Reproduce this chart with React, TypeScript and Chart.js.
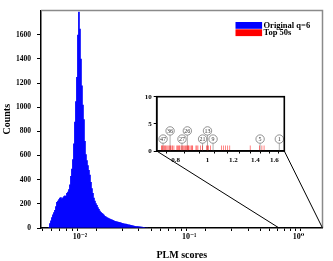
import React, { useEffect, useRef } from 'react';
import { Chart, registerables } from 'chart.js';
Chart.register(...registerables);

// ---- Data ----
const binCenters = [
  0.005202, 0.005312, 0.005426, 0.005541, 0.005659, 0.005780, 0.005903, 0.006029, 0.006157, 0.006289,
  0.006423, 0.006559, 0.006699, 0.006842, 0.006988, 0.007137, 0.007289, 0.007444, 0.007603, 0.007765,
  0.007930, 0.008099, 0.008272, 0.008448, 0.008628, 0.008812, 0.008999, 0.009191, 0.009387, 0.009587,
  0.009791, 0.010000, 0.010213, 0.010431, 0.010653, 0.010880, 0.011112, 0.011348, 0.011590, 0.011837,
  0.012089, 0.012347, 0.012610, 0.012879, 0.013153, 0.013433, 0.013719, 0.014011, 0.014310, 0.014615,
  0.014926, 0.015244, 0.015569, 0.015901, 0.016240, 0.016586, 0.016939, 0.017300, 0.017669, 0.018045,
  0.018430, 0.018822, 0.019223, 0.019633, 0.020051, 0.020478, 0.020915, 0.021360, 0.021815, 0.022280,
  0.022755, 0.023240, 0.023735, 0.024240, 0.024757, 0.025284, 0.025823, 0.026373, 0.026935, 0.027508,
  0.028094, 0.028693, 0.029304, 0.029928, 0.030566, 0.031217, 0.031882, 0.032561, 0.033255, 0.033963,
  0.034687, 0.035426, 0.036180, 0.036951, 0.037738, 0.038542, 0.039363, 0.040201, 0.041058,
];
const counts = [
  8, 40, 62, 90, 112, 130, 148, 180, 215, 225,
  238, 250, 255, 245, 252, 262, 270, 265, 290, 300,
  320, 360, 430, 490, 570, 700, 880, 1050, 1250, 1600,
  1790, 1650, 1400, 1180, 1020, 900, 720, 610, 560, 520,
  480, 440, 380, 330, 290, 250, 225, 205, 190, 172,
  158, 142, 132, 125, 118, 110, 100, 95, 90, 85,
  80, 76, 73, 70, 66, 62, 58, 55, 53, 51,
  49, 48, 45, 42, 40, 38, 36, 35, 33, 30,
  28, 26, 24, 22, 20, 18, 17, 15, 15, 14,
  13, 12, 11, 10, 9, 8, 7, 5, 3,
];
const topScores = [
  0.724, 0.727, 0.731, 0.737, 0.741, 0.744, 0.751, 0.757, 0.763, 0.768,
  0.772, 0.779, 0.783, 0.790, 0.806, 0.811, 0.815, 0.820, 0.824, 0.832,
  0.838, 0.844, 0.852, 0.857, 0.862, 0.868, 0.873, 0.876, 0.884, 0.892,
  0.897, 0.901, 0.922, 0.928, 0.935, 0.952, 0.966, 0.993, 0.999, 1.007,
  1.021, 1.103, 1.118, 1.134, 1.152, 1.169, 1.350, 1.440, 1.465, 1.488,
];
const labelRanks = [47, 36, 27, 26, 21, 13, 9, 5, 1];
const labelScores = [0.732, 0.769, 0.836, 0.868, 0.966, 1.0, 1.04, 1.447, 1.656];
const labelLevels = [2.2, 3.7, 2.2, 3.7, 2.2, 3.7, 2.2, 2.2, 2.2];

const mainYTicks = [0, 200, 400, 600, 800, 1000, 1200, 1400, 1600];
const mainXRange = [0.0044, 1.66];
const mainYMax = 1800;
const zoomRange = [0.665, 1.66];
const insetXRange = [0.704, 1.715];
const insetXTicks = [0.7, 0.8, 0.9, 1.0, 1.1, 1.2, 1.3, 1.4, 1.5, 1.6, 1.7];
const insetXLabels = [0.8, 1, 1.2, 1.4, 1.6];
const insetYTicks = [0, 5, 10];
const legendLabels = ['Original q=6', 'Top 50s'];
const legendColors = ['#0000ff', '#ff0000'];

// ---- Layout ----
const W = 333;
const H = 261;
const MAIN = { left: 41, top: 7.5, right: 322.5, bottom: 228 };
const INSET = { left: 156.7, top: 96.7, right: 284.3, bottom: 151 };
const INSET_CANVAS = { left: 130, top: 88, width: 160, height: 82 };

const FAMILY = '"Liberation Serif", "Times New Roman", "DejaVu Serif", serif';
const SUP: Record<string, string> = { '-': '\u207B', '0': '\u2070', '1': '\u00B9', '2': '\u00B2', '3': '\u00B3' };
const supText = (n: number) => String(n).split('').map((c) => SUP[c] || c).join('');

export default function App() {
  const mainRef = useRef<HTMLCanvasElement>(null);
  const insetRef = useRef<HTMLCanvasElement>(null);

  useEffect(() => {
    const mainCanvas = mainRef.current!;
    const insetCanvas = insetRef.current!;

    const mainPlugin = {
      id: 'mainDecor',
      afterDraw(chart: any) {
        const ctx = chart.ctx;
        const a = chart.chartArea;
        const xs = chart.scales.x;
        ctx.save();
        ctx.strokeStyle = '#8a8a8a';
        ctx.lineWidth = 1.5;
        ctx.beginPath();
        ctx.moveTo(a.left, a.top);
        ctx.lineTo(a.right, a.top);
        ctx.lineTo(a.right, a.bottom);
        ctx.stroke();
        ctx.strokeStyle = '#000';
        ctx.lineWidth = 1;
        ctx.beginPath();
        ctx.moveTo(INSET.left, INSET.bottom);
        ctx.lineTo(xs.getPixelForValue(zoomRange[0]), a.bottom);
        ctx.moveTo(INSET.right, INSET.bottom);
        ctx.lineTo(xs.getPixelForValue(zoomRange[1]), a.bottom);
        ctx.stroke();
        const lx = a.right - 87;
        const ly = a.top + 11.5;
        ctx.font = `bold 8.5px ${FAMILY}`;
        ctx.textBaseline = 'middle';
        ctx.textAlign = 'left';
        legendLabels.forEach((t, i) => {
          ctx.fillStyle = legendColors[i];
          ctx.fillRect(lx, ly + i * 7.3, 26.6, 6.8);
          ctx.fillStyle = '#000';
          ctx.fillText(t, lx + 28, ly + i * 7.3 + 3.6);
        });
        ctx.restore();
      },
    };

    const mainChart = new Chart(mainCanvas, {
      type: 'bar',
      data: {
        datasets: [
          {
            label: legendLabels[0],
            data: binCenters.map((x, i) => ({ x, y: counts[i] })),
            backgroundColor: '#0000ff',
            borderWidth: 0,
            barThickness: 1.7,
            inflateAmount: 0,
          },
        ],
      },
      options: {
        responsive: false,
        animation: false,
        events: [],
        layout: { padding: { left: 0, right: W - MAIN.right, top: MAIN.top, bottom: 0 } },
        plugins: { legend: { display: false }, tooltip: { enabled: false } },
        scales: {
          x: {
            type: 'logarithmic',
            min: mainXRange[0],
            max: mainXRange[1],
            afterFit: (s: any) => { s.height = H - MAIN.bottom; },
            afterBuildTicks: (s: any) => {
              const t: any[] = [];
              for (let e = -3; e <= 0; e++) {
                for (let m = 1; m <= 9; m++) {
                  const v = m * Math.pow(10, e);
                  if (v >= mainXRange[0] && v <= mainXRange[1]) t.push({ value: v, major: m === 1, exp: e });
                }
              }
              s.ticks = t;
            },
            grid: { drawOnChartArea: false, drawTicks: true, tickLength: 3, color: '#000', tickWidth: 1 },
            border: { display: true, color: '#000', width: 1.5 },
            ticks: {
              autoSkip: false,
              maxRotation: 0,
              padding: 1,
              color: '#000',
              font: { family: FAMILY, size: 8, weight: 'bold' },
              callback: (_v: any, i: number, ticks: any[]) => {
                const tk = ticks[i];
                return tk.major ? '10' + supText(tk.exp) : '';
              },
            },
            title: {
              display: true,
              text: 'PLM scores',
              color: '#000',
              font: { family: FAMILY, size: 10, weight: 'bold' },
              padding: { top: 0, bottom: 0 },
            },
          },
          y: {
            type: 'linear',
            min: 0,
            max: mainYMax,
            afterFit: (s: any) => { s.width = MAIN.left; },
            afterBuildTicks: (s: any) => { s.ticks = mainYTicks.map((v) => ({ value: v })); },
            grid: { drawOnChartArea: false, drawTicks: true, tickLength: 4, color: '#000' },
            border: { display: true, color: '#000', width: 1.5 },
            ticks: {
              padding: 6,
              color: '#000',
              font: { family: FAMILY, size: 7.5, weight: 'bold' },
              callback: (v: any) => String(v),
            },
            title: {
              display: true,
              text: 'Counts',
              color: '#000',
              font: { family: FAMILY, size: 10, weight: 'bold' },
              padding: { top: 1, bottom: 0 },
            },
          },
        },
      } as any,
      plugins: [mainPlugin],
    });

    const insetPlugin = {
      id: 'insetDecor',
      beforeDatasetsDraw(chart: any) {
        const ctx = chart.ctx;
        const ys = chart.scales.y;
        const meta = chart.getDatasetMeta(0);
        ctx.save();
        ctx.strokeStyle = '#9a9a9a';
        ctx.lineWidth = 0.8;
        meta.data.forEach((pt: any) => {
          ctx.beginPath();
          ctx.moveTo(pt.x, pt.y + 4);
          ctx.lineTo(pt.x, ys.getPixelForValue(0));
          ctx.stroke();
        });
        ctx.restore();
      },
      afterDatasetsDraw(chart: any) {
        const ctx = chart.ctx;
        const meta = chart.getDatasetMeta(0);
        ctx.save();
        ctx.fillStyle = '#333';
        ctx.font = `6px ${FAMILY}`;
        ctx.textAlign = 'center';
        ctx.textBaseline = 'middle';
        meta.data.forEach((pt: any, i: number) => {
          ctx.fillText(String(labelRanks[i]), pt.x, pt.y + 0.5);
        });
        ctx.restore();
      },
      afterDraw(chart: any) {
        const ctx = chart.ctx;
        const a = chart.chartArea;
        ctx.save();
        ctx.strokeStyle = '#000';
        ctx.lineWidth = 1.6;
        ctx.strokeRect(a.left, a.top, a.right - a.left, a.bottom - a.top);
        ctx.restore();
      },
    };

    const insetChart = new Chart(insetCanvas, {
      type: 'bar',
      data: {
        datasets: [
          {
            type: 'scatter',
            label: 'ranks',
            data: labelScores.map((x, i) => ({ x, y: labelLevels[i] })),
            pointRadius: 4.2,
            pointBackgroundColor: '#fff',
            pointBorderColor: '#777',
            pointBorderWidth: 0.8,
            showLine: false,
          } as any,
          {
            label: legendLabels[1],
            data: topScores.map((x) => ({ x, y: 1 })),
            backgroundColor: 'rgba(255,0,0,0.6)',
            borderWidth: 0,
            barThickness: 0.8,
            inflateAmount: 0,
          },
        ],
      },
      options: {
        responsive: false,
        animation: false,
        events: [],
        layout: {
          padding: {
            left: 0,
            right: INSET_CANVAS.left + INSET_CANVAS.width - INSET.right,
            top: INSET.top - INSET_CANVAS.top,
            bottom: 0,
          },
        },
        plugins: { legend: { display: false }, tooltip: { enabled: false } },
        scales: {
          x: {
            type: 'logarithmic',
            min: insetXRange[0],
            max: insetXRange[1],
            afterFit: (s: any) => { s.height = INSET_CANVAS.top + INSET_CANVAS.height - INSET.bottom; },
            afterBuildTicks: (s: any) => { s.ticks = insetXTicks.map((v) => ({ value: v })); },
            grid: { drawOnChartArea: false, drawTicks: true, tickLength: 2.5, color: '#000' },
            border: { display: true, color: '#000', width: 1.5 },
            ticks: {
              autoSkip: false,
              maxRotation: 0,
              padding: 2,
              color: '#000',
              font: { family: FAMILY, size: 7, weight: 'bold' },
              callback: (v: any) => {
                const n = Number(v);
                const hit = insetXLabels.find((l) => Math.abs(l - n) < 1e-6);
                return hit !== undefined ? String(hit) : '';
              },
            },
          },
          y: {
            type: 'linear',
            min: 0,
            max: 10,
            afterFit: (s: any) => { s.width = INSET.left - INSET_CANVAS.left; },
            afterBuildTicks: (s: any) => { s.ticks = insetYTicks.map((v) => ({ value: v })); },
            grid: { drawOnChartArea: false, drawTicks: true, tickLength: 3, color: '#000' },
            border: { display: true, color: '#000', width: 1.5 },
            ticks: {
              padding: 2,
              color: '#000',
              font: { family: FAMILY, size: 7, weight: 'bold' },
            },
          },
        },
      } as any,
      plugins: [insetPlugin],
    });

    return () => {
      mainChart.destroy();
      insetChart.destroy();
    };
  }, []);

  return (
    <div style={{ position: 'absolute', left: 0, top: 0, width: W, height: H, background: '#fff' }}>
      <canvas ref={mainRef} width={W} height={H} style={{ position: 'absolute', left: 0, top: 0, width: W, height: H }} />
      <canvas
        ref={insetRef}
        width={INSET_CANVAS.width}
        height={INSET_CANVAS.height}
        style={{
          position: 'absolute',
          left: INSET_CANVAS.left,
          top: INSET_CANVAS.top,
          width: INSET_CANVAS.width,
          height: INSET_CANVAS.height,
        }}
      />
    </div>
  );
}
